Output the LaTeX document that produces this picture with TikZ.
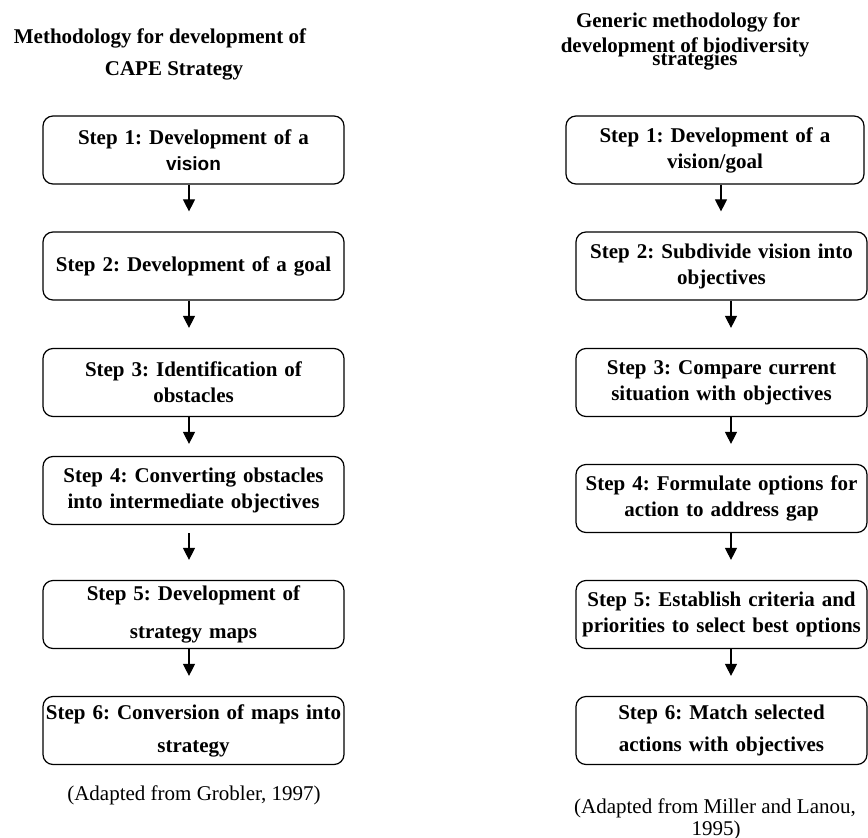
\documentclass[tikz,border=0pt]{standalone}
\usepackage{fontspec}
\setmainfont{Liberation Serif}
\newfontfamily\arialfont{Liberation Sans}
\usetikzlibrary{arrows.meta}
\frenchspacing

\tikzset{
  stepbox/.style={draw, line width=1.2pt, rounded corners=10pt, inner sep=0pt,
    minimum height=68pt, align=center, font=\bfseries\fontsize{21}{26}\selectfont},
  leftbox/.style={stepbox, text width=301pt},
  rightbox/.style={stepbox, text width=291pt},
  flow/.style={line width=1.1pt, -{Triangle[length=12pt,width=12pt]}, shorten >=20pt},
  heading/.style={anchor=base, inner sep=0pt, font=\bfseries\fontsize{21}{26}\selectfont},
  source/.style={anchor=base, inner sep=0pt, font=\fontsize{21}{26}\selectfont},
}

\begin{document}
\begin{tikzpicture}[x=1pt, y=-1pt]
\useasboundingbox (0,0) rectangle (868,838);

% left column
\node[heading] (lt1) at (160,43) {Methodology for development of};
\node[heading] (lt2) at (174,75) {CAPE Strategy};

\node[leftbox] (L1) at (193.5,150)   {Step 1: Development of a\\{\arialfont\fontsize{19}{26}\selectfont vision}};
\node[leftbox] (L2) at (193.5,266)   {Step 2: Development of a goal};
\node[leftbox] (L3) at (193.5,382.5) {Step 3: Identification of\\obstacles};
\node[leftbox] (L4) at (193.5,490.5) {Step 4: Converting obstacles\\into intermediate objectives};
\node[leftbox] (L5) at (193.5,614.5) {Step 5: Development of\\[12pt]strategy maps};
\node[leftbox] (L6) at (193.5,730.5) {Step 6: Conversion of maps into\\[7pt]strategy};

\node[source] (lsrc) at (194,800) {(Adapted from Grobler, 1997)};

\draw[flow] ([xshift=-4.5pt]L1.south) -- ([xshift=-4.5pt]L2.north);
\draw[flow] ([xshift=-4.5pt]L2.south) -- ([xshift=-4.5pt]L3.north);
\draw[flow, shorten >=12pt] ([xshift=-4.5pt]L3.south) -- ([xshift=-4.5pt]L4.north);
\draw[flow, shorten <=8pt] ([xshift=-4.5pt]L4.south) -- ([xshift=-4.5pt]L5.north);
\draw[flow] ([xshift=-4.5pt]L5.south) -- ([xshift=-4.5pt]L6.north);

% right column
\node[heading] (rt1) at (688,27) {Generic methodology for};
\node[heading] (rt2) at (685,52) {development of biodiversity};
\node[heading] (rt3) at (695,65) {strategies};

\node[stepbox, text width=298pt] (R1) at (715,150) {Step 1: Development of a\\vision/goal};
\node[rightbox] (R2) at (721.5,266)   {Step 2: Subdivide vision into\\objectives};
\node[rightbox] (R3) at (721.5,382.5) {Step 3: Compare current\\situation with objectives};
\node[rightbox] (R4) at (721.5,498.5) {Step 4: Formulate options for\\action to address gap};
\node[rightbox] (R5) at (721.5,614.5) {Step 5: Establish criteria and\\priorities to select best options};
\node[rightbox] (R6) at (721.5,730.5) {Step 6: Match selected\\[6pt]actions with objectives};

\node[source] (rsrc1) at (715,813) {(Adapted from Miller and Lanou,};
\node[source] (rsrc2) at (716,835) {1995)};

\draw[flow] ([xshift=6pt]R1.south) -- ([xshift=-0.5pt]R2.north);
\draw[flow] ([xshift=9.5pt]R2.south) -- ([xshift=9.5pt]R3.north);
\draw[flow] ([xshift=9.5pt]R3.south) -- ([xshift=9.5pt]R4.north);
\draw[flow] ([xshift=9.5pt]R4.south) -- ([xshift=9.5pt]R5.north);
\draw[flow] ([xshift=9.5pt]R5.south) -- ([xshift=9.5pt]R6.north);
\end{tikzpicture}
\end{document}
